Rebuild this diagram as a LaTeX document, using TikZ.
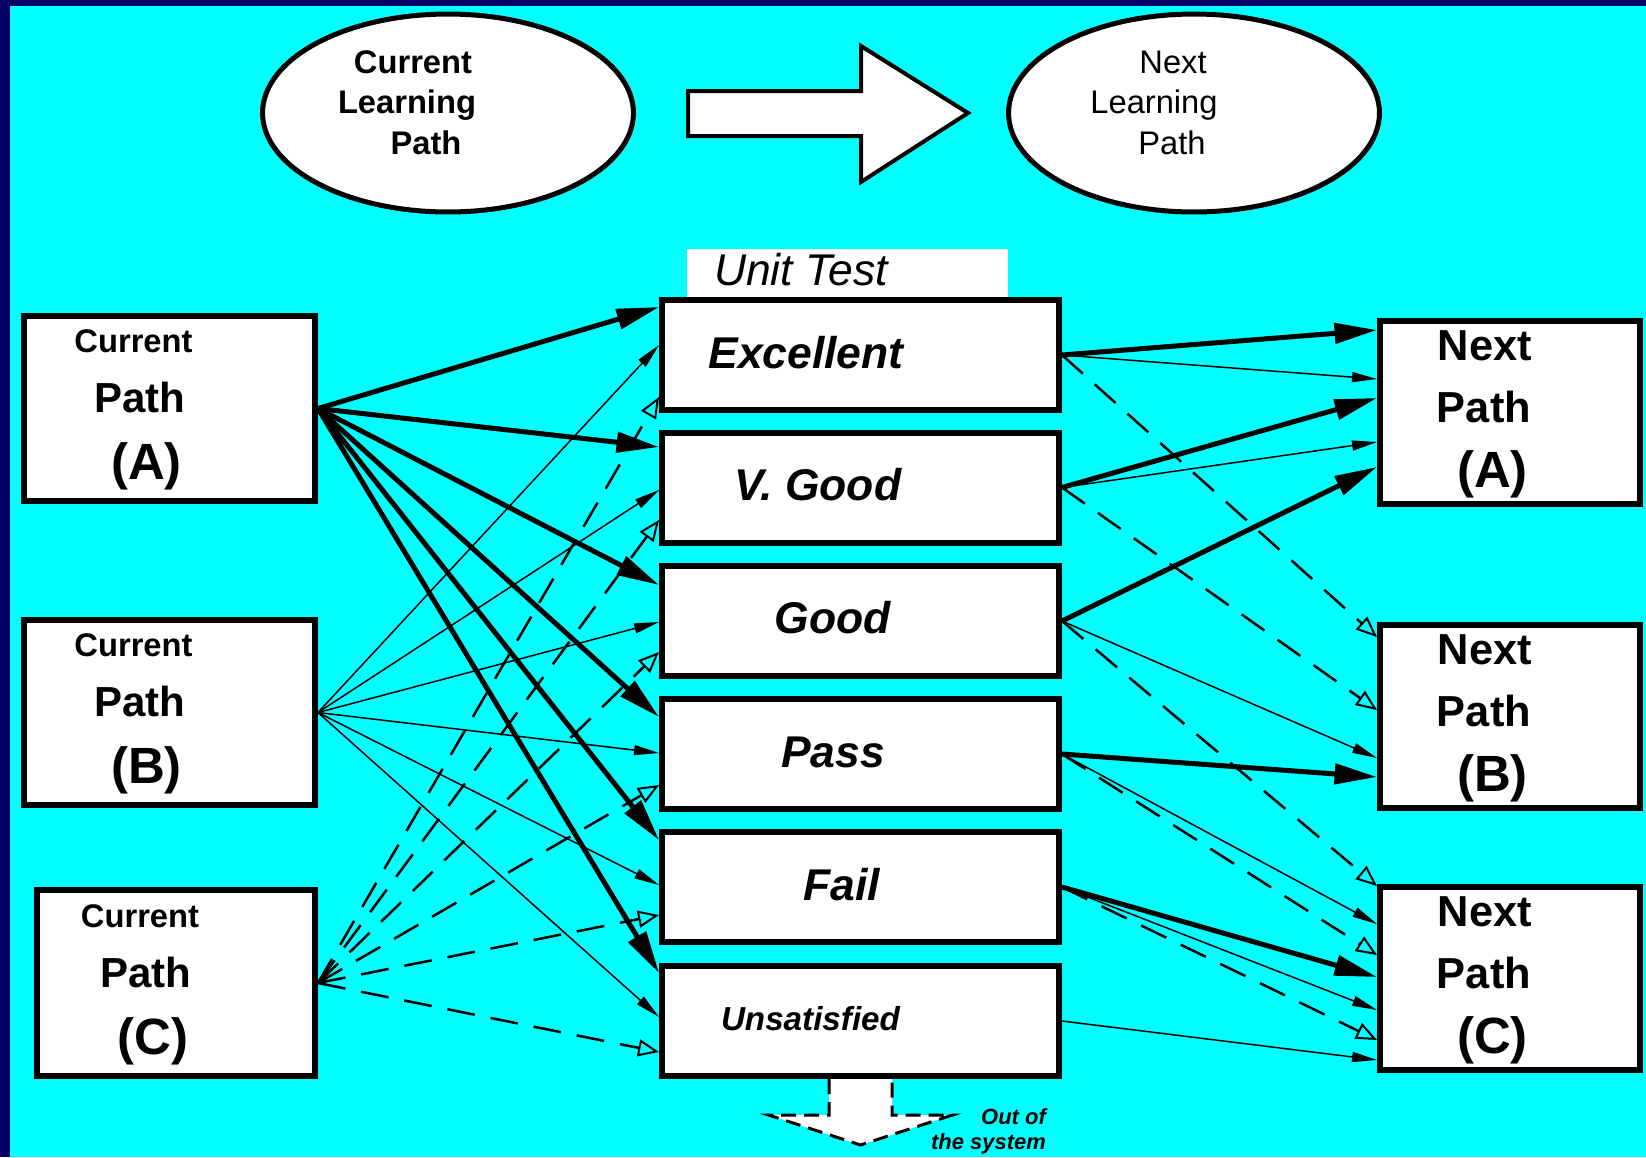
\documentclass[tikz,border=0pt]{standalone}
\usepackage{fontspec}
\setmainfont{Liberation Sans}
\usetikzlibrary{positioning, calc, arrows.meta, shapes.geometric}
\definecolor{Navy}{HTML}{000066}
\definecolor{Aqua}{HTML}{00FFFF}
\newcommand{\pxsize}[1]{\fontsize{#1}{#1}\selectfont}
\tikzset{
    bubble/.style={ellipse, draw=black, fill=white, line width=0.1cm, minimum width=7.42cm, minimum height=3.96cm},
    pathbox/.style={rectangle, draw=black, fill=white, line width=0.12cm, minimum height=3.72cm},
    gradebox/.style={rectangle, draw=black, fill=white, line width=0.12cm, minimum width=7.94cm, minimum height=2.2cm},
    heavy/.style={line width=0.1cm, -{Triangle[length=0.85cm, width=0.4cm]}},
    light/.style={line width=0.03cm, -{Triangle[length=0.5cm, width=0.2cm]}},
    dashlink/.style={line width=0.05cm, dash pattern=on 0.56cm off 0.32cm, -{Triangle[open, length=0.42cm, width=0.34cm, line width=0.04cm]}},
    basetext/.style={anchor=base, inner sep=0pt},
}

\begin{document}
\begin{tikzpicture}[x=0.02cm, y=-0.02cm]
    \useasboundingbox (0,0) rectangle (1646,1157);
    % frame and background
    \fill[Navy] (0,0) rectangle (1646,1157);
    \fill[Aqua] (10,6) rectangle (1646,1157);

    % --- Current -> Next learning path ---
    \node[bubble] (cur) at (448,113) {};
    \node[bubble] (nxt) at (1194,113) {};
    \foreach \txt/\x/\y [count=\i] in {Current/413/73, Learning/407/113, Path/426/154}
        \node[basetext, font=\pxsize{18.6}\bfseries] (cur-\i) at (\x,\y) {\txt};
    \foreach \txt/\x/\y [count=\i] in {Next/1173/73, Learning/1154/113, Path/1172/154}
        \node[basetext, font=\pxsize{18.6}] (nxt-\i) at (\x,\y) {\txt};
    \draw[line width=0.08cm, fill=white] (688,91) -- (861,91) -- (861,46) -- (968,113)
        -- (861,182) -- (861,136) -- (688,136) -- cycle;

    % --- grades of the unit test ---
    \foreach \gr/\y in {exc/355, vg/487.5, good/621, pass/754, fail/887, unsat/1021}
        \node[gradebox] (\gr) at (860.5,\y) {};
    \node[fill=white, inner sep=0pt, minimum width=6.42cm, minimum height=0.96cm, above=0pt of exc, xshift=-0.26cm] (unit) {};
    \node[basetext, font=\pxsize{25.3}\itshape] (unit-t) at (801,285) {Unit Test};
    \foreach \gr/\txt/\dx/\dy/\sz in {exc/Excellent/-54.5/13/25.3, vg/V. Good/-42.5/12.5/25.3,
        good/Good/-28/12/25.3, pass/Pass/-27.5/13/25.3, fail/Fail/-18.5/13/25.3, unsat/Unsatisfied/-50/9/18.9}
        \node[basetext, font=\pxsize{\sz}\bfseries\itshape] (\gr-t) at ($(\gr)+(\dx,\dy)$) {\txt};

    % out of the system
    \draw[line width=0.06cm, dash pattern=on 0.3cm off 0.16cm, fill=white]
        ($(unsat.south)+(-31.5,0)$) -- ++(0,36) -- ++(-60.5,0) -- ($(unsat.south)+(0,66)$)
        -- ($(unsat.south)+(92,36)$) -- ++(-60.5,0) -- ++(0,-36);
    \node[font=\fontsize{12.5}{14.2}\selectfont\bfseries\itshape, align=right, inner sep=0pt] (outof) at (988.5,1131) {Out of\\the system};

    % --- current and next paths ---
    \node[pathbox, minimum width=5.82cm] (curA) at (169.5,408.5) {};
    \node[pathbox, minimum width=5.82cm] (curB) at (169.5,712.5) {};
    \node[pathbox, minimum width=5.56cm] (curC) at (176,983) {};
    \node[pathbox, minimum width=5.2cm, minimum height=3.66cm] (nxA) at (1510,412.5) {};
    \node[pathbox, minimum width=5.2cm, minimum height=3.66cm] (nxB) at (1510,716.5) {};
    \node[pathbox, minimum width=5.2cm, minimum height=3.66cm] (nxC) at (1510,978.5) {};
    \foreach \bx/\lab in {curA/A, curB/B, curC/C} {
        \node[basetext, font=\pxsize{18.6}\bfseries] (\bx-1) at ($(\bx)+(-36,-56)$) {Current};
        \node[basetext, font=\pxsize{23.9}\bfseries] (\bx-2) at ($(\bx)+(-30,4)$) {Path};
        \node[basetext, font=\pxsize{29}\bfseries] (\bx-3) at ($(\bx)+(-23,71)$) {(\lab)};
    }
    \foreach \bx/\lab in {nxA/A, nxB/B, nxC/C} {
        \node[basetext, font=\pxsize{24.7}\bfseries] (\bx-1) at ($(\bx)+(-25,-52)$) {Next};
        \node[basetext, font=\pxsize{24.7}\bfseries] (\bx-2) at ($(\bx)+(-26,10)$) {Path};
        \node[basetext, font=\pxsize{29}\bfseries] (\bx-3) at ($(\bx)+(-17.5,75)$) {(\lab)};
    }

    % --- links: current path -> grade ---
    \foreach \gr/\dy in {exc/-48, vg/-40.5, good/-36, pass/-37, fail/-47, unsat/-48}
        \draw[heavy] (curA.east) -- ($(\gr.west)+(0,\dy)$);
    \foreach \gr/\dy in {exc/-10, vg/2.5, good/1, pass/-1, fail/-2, unsat/-4}
        \draw[light] (curB.east) -- ($(\gr.west)+(0,\dy)$);
    \foreach \gr/\dy in {exc/42, vg/32.5, good/31, pass/31, fail/28, unsat/31}
        \draw[dashlink] (curC.east) -- ($(\gr.west)+(0,\dy)$);

    % --- links: grade -> next path ---
    \foreach \gr/\nx/\dy in {exc/nxA/-82.5, vg/nxA/-14.5, good/nxA/54.5, pass/nxB/60.5, fail/nxC/-1.5}
        \draw[heavy] (\gr.east) -- ($(\nx.west)+(0,\dy)$);
    \foreach \gr/\nx/\dy in {exc/nxA/-33.5, vg/nxA/29.5, good/nxB/41.5, pass/nxC/-54.5, fail/nxC/31.5, unsat/nxC/81.5}
        \draw[light] (\gr.east) -- ($(\nx.west)+(0,\dy)$);
    \foreach \gr/\nx/\dy in {exc/nxB/-79.5, vg/nxB/-6.5, good/nxC/-92.5, pass/nxC/-23.5, fail/nxC/61.5}
        \draw[dashlink] (\gr.east) -- ($(\nx.west)+(0,\dy)$);
\end{tikzpicture}
\end{document}
